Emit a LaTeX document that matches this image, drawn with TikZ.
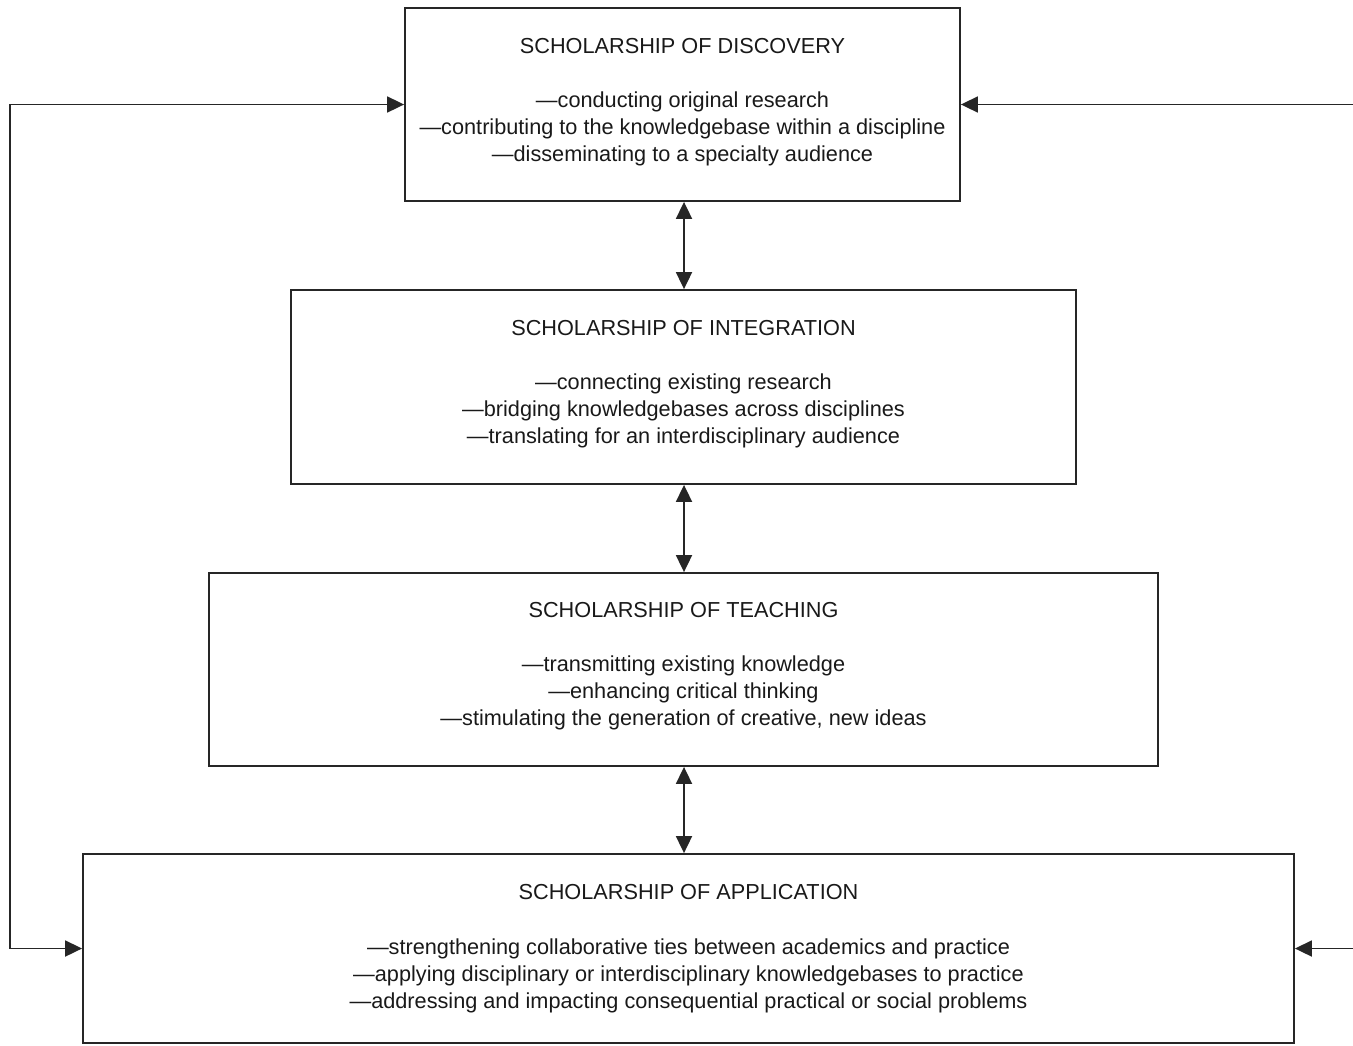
\documentclass[tikz,border=0pt]{standalone}
\usepackage{fontspec}
\setmainfont{Liberation Sans}
\usetikzlibrary{arrows.meta}
\begin{document}
\begin{tikzpicture}[x=0.5pt,y=-0.5pt,
  box/.style={draw=black!85,line width=0.9pt,rectangle,inner sep=0pt},
  txt/.style={anchor=north,inner sep=0pt,align=center,text=black!90,
    font=\fontsize{10.85}{13.5}\selectfont},
  conn/.style={draw=black!85,line width=0.9pt,
    arrows={-Triangle[length=8.5pt,width=8pt]}},
  dconn/.style={draw=black!85,line width=0.9pt,
    arrows={Triangle[length=8.5pt,width=8pt]-Triangle[length=8.5pt,width=8pt]}}]
\useasboundingbox (0,0) rectangle (1353,1045);
\node[box,minimum width=277.5pt,minimum height=96.5pt] (disc) at (682.5,104.5) {};
\node[box,minimum width=392.5pt,minimum height=97pt] (integ) at (683.5,387) {};
\node[box,minimum width=474.5pt,minimum height=96.5pt] (teach) at (683.5,669.5) {};
\node[box,minimum width=605.5pt,minimum height=94.5pt] (app) at (688.5,948.5) {};

\node[txt] (discT) at ([yshift=-15.5pt]disc.north) {SCHOLARSHIP OF DISCOVERY\\[13.5pt]
—conducting original research\\
—contributing to the knowledgebase within a discipline\\
—disseminating to a specialty audience};
\node[txt] (integT) at ([yshift=-15.5pt]integ.north) {SCHOLARSHIP OF INTEGRATION\\[13.5pt]
—connecting existing research\\
—bridging knowledgebases across disciplines\\
—translating for an interdisciplinary audience};
\node[txt] (teachT) at ([yshift=-15pt]teach.north) {SCHOLARSHIP OF TEACHING\\[13.5pt]
—transmitting existing knowledge\\
—enhancing critical thinking\\
—stimulating the generation of creative, new ideas};
\node[txt] (appT) at ([yshift=-15.5pt]app.north) {SCHOLARSHIP OF APPLICATION\\[14pt]
—strengthening collaborative ties between academics and practice\\
—applying disciplinary or interdisciplinary knowledgebases to practice\\
—addressing and impacting consequential practical or social problems};

\coordinate (ax) at (684,0);
\draw[dconn] (disc.south -| ax) -- (integ.north -| ax);
\draw[dconn] (integ.south -| ax) -- (teach.north -| ax);
\draw[dconn] (teach.south -| ax) -- (app.north -| ax);

\coordinate (lc) at (10,0);
\coordinate (rc) at (1353,0);
\draw[dconn] (disc.west) -- (disc.west -| lc) -- (app.west -| lc) -- (app.west);
\draw[conn] (disc.east -| rc) -- (disc.east);
\draw[conn] (app.east -| rc) -- (app.east);
\end{tikzpicture}
\end{document}
